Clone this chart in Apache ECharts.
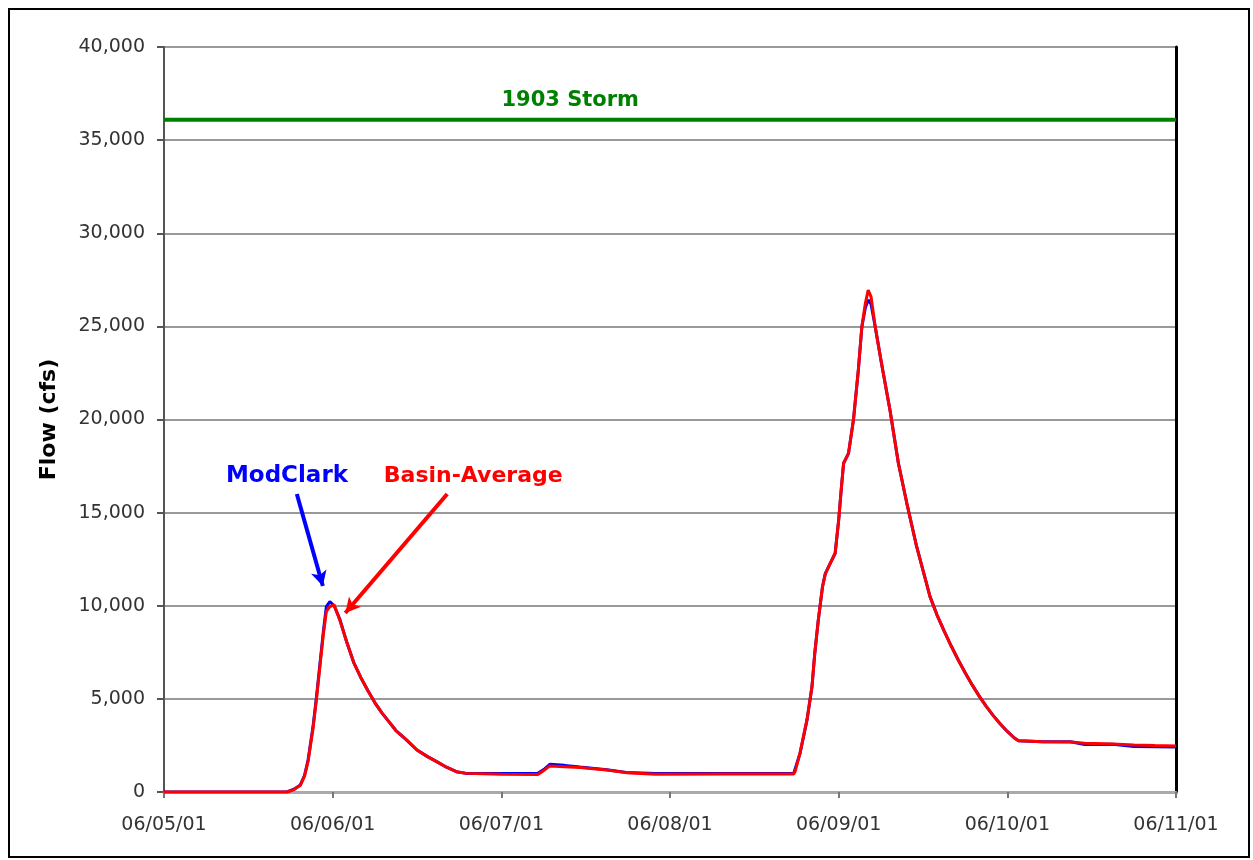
<!DOCTYPE html>
<html>
<head>
<meta charset="utf-8">
<script src="https://cdn.jsdelivr.net/npm/echarts@6/dist/echarts.min.js"></script>
<style>
  html, body { margin: 0; padding: 0; background: #fff; }
  #chart { width: 1253px; height: 860px; }
</style>
</head>
<body>
<div id="chart"></div>
<script>
// hours since 06/05/01 00:00
const hours = [0, 17.5, 18.5, 19.4, 20.0, 20.5, 21.2, 21.7, 22.2, 22.7, 23.1, 23.6, 24.2, 25.0, 26.0, 27.0, 28.0, 29.0, 30.0, 31.0, 32.0, 33.0, 34.5, 36.0, 37.5, 38.8, 40.2, 41.6, 43, 48, 53.2, 54.2, 54.9, 57, 59.2, 63, 65.8, 70, 80, 89.6, 89.8, 90.5, 91.5, 92.2, 92.6, 93.1, 93.7, 94.1, 94.8, 95.5, 96.0, 96.4, 96.7, 97.4, 98.1, 98.8, 99.3, 99.8, 100.2, 100.6, 101.2, 102.1, 103.3, 104.5, 105.7, 107.1, 109, 110, 111, 112, 113, 114, 115, 116, 117, 118, 119, 120, 121, 121.6, 125, 129, 131, 135, 138, 141, 144];
const modClarkFlow = [0, 0, 150, 380, 900, 1720, 3500, 5120, 6920, 8700, 9950, 10220, 10000, 9300, 8050, 6950, 6150, 5450, 4800, 4250, 3780, 3300, 2800, 2255, 1900, 1630, 1330, 1090, 1000, 1000, 1000, 1250, 1490, 1430, 1340, 1200, 1050, 1000, 1000, 1000, 1000, 2070, 3870, 5650, 7450, 9230, 11020, 11740, 12280, 12820, 14600, 16390, 17650, 18180, 19970, 22660, 24980, 26000, 26420, 26200, 24980, 23010, 20510, 17650, 15500, 13170, 10490, 9500, 8650, 7850, 7100, 6400, 5750, 5150, 4600, 4100, 3650, 3250, 2900, 2755, 2700, 2700, 2550, 2560, 2440, 2430, 2420];
const basinFlow = [0, 0, 130, 360, 850, 1650, 3400, 5000, 6800, 8550, 9700, 9950, 10050, 9250, 8050, 6950, 6150, 5450, 4800, 4250, 3780, 3300, 2800, 2255, 1900, 1630, 1330, 1090, 1000, 950, 940, 1200, 1400, 1360, 1320, 1180, 1040, 950, 960, 965, 1100, 2100, 3900, 5650, 7450, 9230, 11020, 11700, 12280, 12820, 14600, 16390, 17650, 18180, 19970, 22660, 24980, 26240, 26950, 26600, 24980, 23010, 20510, 17650, 15500, 13170, 10490, 9500, 8650, 7850, 7100, 6400, 5750, 5150, 4600, 4100, 3650, 3250, 2900, 2755, 2700, 2690, 2620, 2580, 2520, 2490, 2470];
const dateLabels = ['06/05/01', '06/06/01', '06/07/01', '06/08/01', '06/09/01', '06/10/01', '06/11/01'];
const storm1903 = 36100;

const pairs = (ys) => hours.map((h, i) => [h, ys[i]]);

const chart = echarts.init(document.getElementById('chart'), null, { renderer: 'canvas' });

const textFont = 'DejaVu Sans, sans-serif';

chart.setOption({
  animation: false,
  backgroundColor: '#fff',
  grid: { left: 164, right: 77, top: 47, bottom: 68, containLabel: false },
  graphic: [{
    type: 'rect',
    shape: { x: 9, y: 9, width: 1240, height: 848 },
    style: { fill: 'none', stroke: '#000', lineWidth: 2 },
    silent: true
  }],
  xAxis: {
    type: 'value',
    min: 0,
    max: 144,
    interval: 24,
    axisLine: { show: true, onZero: false, lineStyle: { color: '#aaa', width: 3 } },
    axisTick: { show: true, length: 6, lineStyle: { color: '#777', width: 2 } },
    splitLine: { show: false },
    axisLabel: {
      margin: 24,
      fontSize: 19,
      color: '#333',
      fontFamily: textFont,
      formatter: (v) => dateLabels[Math.round(v / 24)]
    }
  },
  yAxis: [{
    type: 'value',
    min: 0,
    max: 40000,
    interval: 5000,
    name: 'Flow (cfs)',
    nameLocation: 'middle',
    nameGap: 104,
    nameTextStyle: { fontSize: 22, fontWeight: 'bold', color: '#000', fontFamily: textFont },
    axisLine: { show: true, lineStyle: { color: '#555', width: 2 } },
    axisTick: { show: true, length: 7, lineStyle: { color: '#555', width: 2 } },
    splitLine: { show: true, lineStyle: { color: '#999', width: 2 } },
    axisLabel: {
      margin: 19,
      fontSize: 19,
      color: '#333',
      fontFamily: textFont,
      formatter: (v) => v.toLocaleString('en-US')
    }
  }, {
    type: 'value',
    position: 'right',
    min: 0,
    max: 40000,
    interval: 5000,
    axisLine: { show: true, lineStyle: { color: '#000', width: 3 } },
    axisTick: { show: false },
    axisLabel: { show: false },
    splitLine: { show: false }
  }],
  series: [{
    name: '1903 Storm',
    type: 'line',
    data: [[0, storm1903], [144, storm1903]],
    symbol: 'none',
    lineStyle: { color: '#008000', width: 4 },
    markPoint: {
      symbol: 'rect',
      symbolSize: 0,
      label: {
        show: true, position: 'inside', formatter: '1903 Storm',
        color: '#008000', fontSize: 21, fontWeight: 'bold', fontFamily: textFont
      },
      data: [{ coord: [57.8, 37150] }]
    }
  }, {
    name: 'ModClark',
    type: 'line',
    data: pairs(modClarkFlow),
    symbol: 'none',
    lineStyle: { color: '#0000ff', width: 3 },
    markLine: {
      silent: true,
      symbol: ['none', 'arrow'],
      symbolSize: [12, 15],
      lineStyle: { color: '#0000ff', width: 4, type: 'solid' },
      label: { show: false },
      data: [[{ coord: [18.9, 16000] }, { coord: [22.6, 11060] }]]
    },
    markPoint: {
      symbol: 'rect',
      symbolSize: 0,
      label: {
        show: true, position: 'inside', formatter: 'ModClark',
        color: '#0000ff', fontSize: 23, fontWeight: 'bold', fontFamily: textFont
      },
      data: [{ coord: [17.5, 16960] }]
    }
  }, {
    name: 'Basin-Average',
    type: 'line',
    data: pairs(basinFlow),
    symbol: 'none',
    lineStyle: { color: '#ff0000', width: 3 },
    markLine: {
      silent: true,
      symbol: ['none', 'arrow'],
      symbolSize: [12, 15],
      lineStyle: { color: '#ff0000', width: 4, type: 'solid' },
      label: { show: false },
      data: [[{ coord: [40.3, 16000] }, { coord: [25.8, 9610] }]]
    },
    markPoint: {
      symbol: 'rect',
      symbolSize: 0,
      label: {
        show: true, position: 'inside', formatter: 'Basin-Average',
        color: '#ff0000', fontSize: 22, fontWeight: 'bold', fontFamily: textFont
      },
      data: [{ coord: [44.0, 16960] }]
    }
  }]
});
</script>
</body>
</html>
